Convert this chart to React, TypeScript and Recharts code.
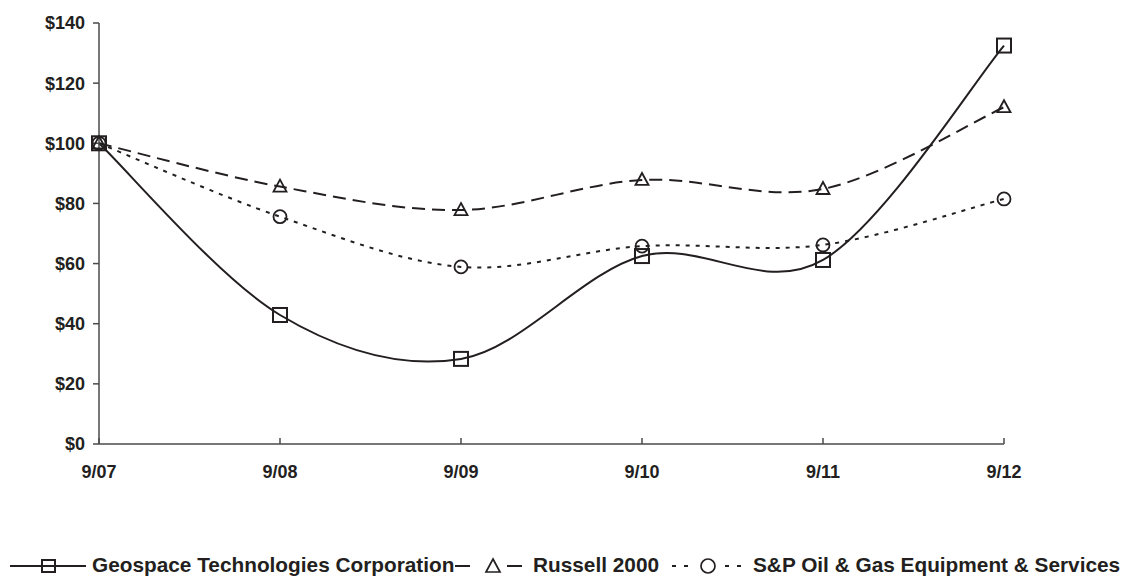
import React from "react";
import { LineChart, Line, XAxis, YAxis } from "recharts";

const periods = ["9/07", "9/08", "9/09", "9/10", "9/11", "9/12"];
const geospace = [100, 42.9, 28.3, 62.5, 61.2, 132.5];
const russell2000 = [100, 85.6, 77.8, 87.8, 84.8, 112.0];
const spOilGas = [100, 75.6, 58.9, 65.8, 66.2, 81.5];
const yTicks = [0, 20, 40, 60, 80, 100, 120, 140];

const INK = "#231f20";
const AXIS = "#4a4a4a";
const FONT = "'Liberation Sans', Arial, Helvetica, sans-serif";

const data = periods.map((period, i) => ({
  period,
  geospace: geospace[i],
  russell: russell2000[i],
  sp: spOilGas[i],
}));

// Excel-style smoothing: cubic Bezier through every point, control points at 1/6 of the neighbour span
const smoothCurve = (context: any) => {
  let pts: number[][] = [];
  return {
    areaStart() {},
    areaEnd() {},
    lineStart() {
      pts = [];
    },
    point(x: number, y: number) {
      pts.push([+x, +y]);
    },
    lineEnd() {
      if (!pts.length) return;
      context.moveTo(pts[0][0], pts[0][1]);
      for (let i = 0; i < pts.length - 1; i++) {
        const p0 = pts[Math.max(i - 1, 0)];
        const p1 = pts[i];
        const p2 = pts[i + 1];
        const p3 = pts[Math.min(i + 2, pts.length - 1)];
        context.bezierCurveTo(
          p1[0] + (p2[0] - p0[0]) / 6,
          p1[1] + (p2[1] - p0[1]) / 6,
          p2[0] - (p3[0] - p1[0]) / 6,
          p2[1] - (p3[1] - p1[1]) / 6,
          p2[0],
          p2[1]
        );
      }
    },
  };
};

const SquareDot = (props: any) => {
  const { cx, cy, index } = props;
  if (cx == null || cy == null) return null;
  return (
    <rect
      key={`sq-${index}`}
      x={cx - 7}
      y={cy - 7}
      width={14}
      height={14}
      fill="none"
      stroke={INK}
      strokeWidth={2}
    />
  );
};

const TriangleDot = (props: any) => {
  const { cx, cy, index } = props;
  if (cx == null || cy == null) return null;
  return (
    <polygon
      key={`tr-${index}`}
      points={`${cx},${cy - 7} ${cx + 6.5},${cy + 5} ${cx - 6.5},${cy + 5}`}
      fill="none"
      stroke={INK}
      strokeWidth={1.8}
    />
  );
};

const CircleDot = (props: any) => {
  const { cx, cy, index } = props;
  if (cx == null || cy == null) return null;
  return (
    <circle key={`ci-${index}`} cx={cx} cy={cy} r={6.5} fill="none" stroke={INK} strokeWidth={1.8} />
  );
};

const tickStyle = { fill: INK, fontSize: 18, fontWeight: 700, fontFamily: FONT };

const ChartLegend = () => (
  <svg width={1124} height={35} style={{ position: "absolute", left: 0, top: 542 }}>
    <g stroke={INK} strokeWidth={2} fill="none">
      <line x1={10} y1={24} x2={86} y2={24} />
      <rect x={42} y={18} width={13} height={12} />
      <line x1={455} y1={24} x2={470} y2={24} />
      <polygon points="493,17 500,30 486,30" strokeWidth={1.7} />
      <line x1={507} y1={24} x2={522} y2={24} />
      <line x1={672} y1={24} x2={692} y2={24} strokeDasharray="4 8" />
      <circle cx={708} cy={24} r={7} strokeWidth={1.7} />
      <line x1={725} y1={24} x2={745} y2={24} strokeDasharray="4 8" />
    </g>
    <g fill={INK} fontFamily={FONT} fontWeight={700} fontSize={20.8}>
      <text x={92} y={30}>Geospace Technologies Corporation</text>
      <text x={533} y={30}>Russell 2000</text>
      <text x={753} y={30}>S&amp;P Oil &amp; Gas Equipment &amp; Services</text>
    </g>
  </svg>
);

export default function App() {
  return (
    <div style={{ position: "absolute", left: 0, top: 0, width: 1124, height: 577, background: "#fff" }}>
      <LineChart
        width={1124}
        height={577}
        data={data}
        margin={{ top: 23, right: 120, bottom: 103, left: 0 }}
      >
        <XAxis
          dataKey="period"
          height={30}
          tick={tickStyle}
          tickSize={-6}
          tickMargin={27}
          axisLine={{ stroke: AXIS, strokeWidth: 1.5 }}
          tickLine={{ stroke: AXIS, strokeWidth: 1.5 }}
        />
        <YAxis
          width={99}
          domain={[0, 140]}
          ticks={yTicks}
          tickFormatter={(v: number) => `$${v}`}
          tick={tickStyle}
          tickSize={6}
          tickMargin={8}
          axisLine={{ stroke: AXIS, strokeWidth: 1.5 }}
          tickLine={{ stroke: AXIS, strokeWidth: 1.5 }}
        />
        <Line
          dataKey="sp"
          type={smoothCurve as any}
          stroke={INK}
          strokeWidth={2}
          strokeDasharray="4 6"
          dot={CircleDot}
          activeDot={false}
          isAnimationActive={false}
        />
        <Line
          dataKey="russell"
          type={smoothCurve as any}
          stroke={INK}
          strokeWidth={2}
          strokeDasharray="13 7"
          dot={TriangleDot}
          activeDot={false}
          isAnimationActive={false}
        />
        <Line
          dataKey="geospace"
          type={smoothCurve as any}
          stroke={INK}
          strokeWidth={2}
          dot={SquareDot}
          activeDot={false}
          isAnimationActive={false}
        />
      </LineChart>
      <ChartLegend />
    </div>
  );
}
